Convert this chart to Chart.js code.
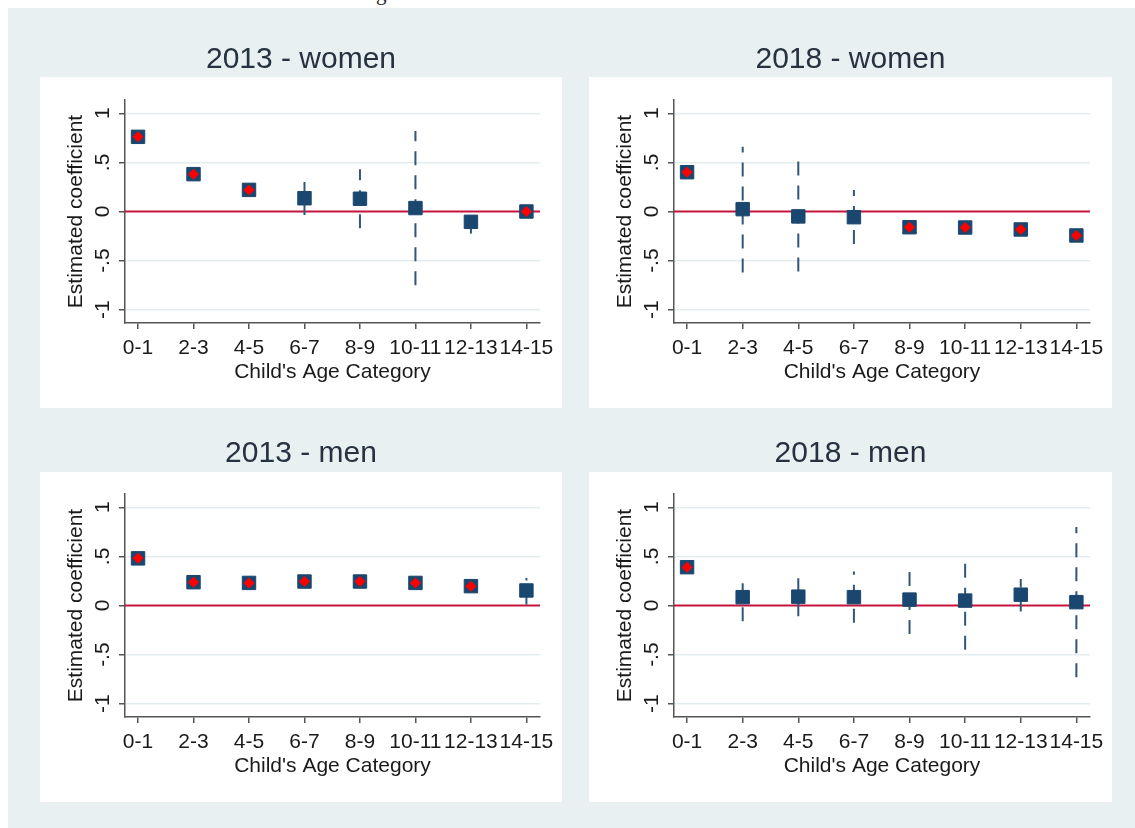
<!DOCTYPE html>
<html>
<head>
<meta charset="utf-8">
<script src="https://cdn.jsdelivr.net/npm/chart.js@4.4.0/dist/chart.umd.min.js"></script>
<style>
    body { margin: 0; width: 1135px; height: 828px; overflow: hidden; position: relative; background: #fff; }
    #caption { position: absolute; left: 0; top: -17px; width: 1135px; text-align: center; font: 21px "Liberation Serif", serif; line-height: 21px; color: #222; }
    #frame { position: absolute; left: 8px; top: 8px; width: 1127px; height: 820px; background: #e8f0f2; }
    .panel { position: absolute; background: #fff; }
    canvas { position: absolute; }
</style>
</head>
<body>
<div id="caption">Figure 3. Estimated coefficients: women and men</div>
<div id="frame"></div>
<div class="panel" style="left:40px; top:77px; width:522px; height:331px;"></div>
<div class="panel" style="left:589px; top:77px; width:523px; height:331px;"></div>
<div class="panel" style="left:40px; top:472px; width:522px; height:330px;"></div>
<div class="panel" style="left:589px; top:472px; width:523px; height:330px;"></div>
<canvas id="women-2013" width="522" height="378" style="left:40px; top:30px;"></canvas>
<canvas id="women-2018" width="523" height="378" style="left:589px; top:30px;"></canvas>
<canvas id="men-2013" width="522" height="378" style="left:40px; top:424px;"></canvas>
<canvas id="men-2018" width="523" height="378" style="left:589px; top:424px;"></canvas>
<script>
const categories = ['0-1', '2-3', '4-5', '6-7', '8-9', '10-11', '12-13', '14-15'];
const yTicks = [-1, -0.5, 0, 0.5, 1];
const yTickLabels = ['-1', '-.5', '0', '.5', '1'];

const women2013Coef = [0.76, 0.38, 0.22, 0.135, 0.13, 0.035, -0.105, 0.0];
const women2013Lower = [0.74, 0.36, 0.20, -0.035, -0.17, -0.75, -0.225, -0.02];
const women2013Upper = [0.78, 0.40, 0.24, 0.30, 0.43, 0.82, 0.01, 0.02];
const women2013Signif = [true, true, true, false, false, false, false, true];

const women2018Coef = [0.40, 0.024, -0.05, -0.058, -0.16, -0.163, -0.183, -0.244];
const women2018Lower = [0.38, -0.62, -0.61, -0.33, -0.23, -0.18, -0.20, -0.26];
const women2018Upper = [0.42, 0.66, 0.52, 0.22, -0.08, -0.145, -0.165, -0.225];
const women2018Signif = [true, false, false, false, true, true, true, true];

const men2013Coef = [0.48, 0.237, 0.23, 0.244, 0.244, 0.23, 0.197, 0.153];
const men2013Lower = [0.46, 0.22, 0.21, 0.225, 0.225, 0.21, 0.175, 0.01];
const men2013Upper = [0.50, 0.255, 0.25, 0.263, 0.263, 0.25, 0.22, 0.28];
const men2013Signif = [true, true, true, true, true, true, true, false];

const men2018Coef = [0.39, 0.085, 0.09, 0.085, 0.06, 0.05, 0.11, 0.034];
const men2018Lower = [0.37, -0.16, -0.11, -0.176, -0.29, -0.45, -0.06, -0.73];
const men2018Upper = [0.41, 0.26, 0.29, 0.345, 0.38, 0.47, 0.27, 0.80];
const men2018Signif = [true, false, false, false, false, false, false, false];

const FONT = '"Liberation Sans", Arial, sans-serif';
const NAVY = '#1a476f';
const AXIS = '#555';
Chart.defaults.font.family = FONT;

function makeChart(id, title, coef, lower, upper, signif) {
    // zero line + dashed confidence intervals, drawn under the markers
    let ciPlugin = {
        id: 'ci',
        beforeDatasetsDraw(chart) {
            let ctx = chart.ctx;
            let x = chart.scales.x, y = chart.scales.y;
            ctx.save();
            ctx.strokeStyle = '#c5143c';
            ctx.lineWidth = 2;
            ctx.beginPath();
            ctx.moveTo(chart.chartArea.left, y.getPixelForValue(0));
            ctx.lineTo(chart.chartArea.right, y.getPixelForValue(0));
            ctx.stroke();
            ctx.strokeStyle = '#34557a';
            ctx.setLineDash([14, 10]);
            coef.forEach((c, i) => {
                let px = x.getPixelForValue(i);
                ctx.beginPath();
                ctx.moveTo(px, y.getPixelForValue(lower[i]));
                ctx.lineTo(px, y.getPixelForValue(upper[i]));
                ctx.stroke();
            });
            ctx.restore();
        }
    };
    // stata style y tick labels, rotated
    let yLabelPlugin = {
        id: 'ylabels',
        afterDraw(chart) {
            let ctx = chart.ctx;
            let y = chart.scales.y;
            ctx.save();
            ctx.font = '21px ' + FONT;
            ctx.fillStyle = '#1a1a1a';
            ctx.textAlign = 'center';
            ctx.textBaseline = 'middle';
            yTicks.forEach((v, i) => {
                ctx.save();
                ctx.translate(y.right - 22, y.getPixelForValue(v));
                ctx.rotate(-Math.PI / 2);
                ctx.fillText(yTickLabels[i], 0, 0);
                ctx.restore();
            });
            ctx.restore();
        }
    };

    return new Chart(document.getElementById(id).getContext('2d'), {
        type: 'scatter',
        data: {
            datasets: [{
                data: coef.map((c, i) => ({ x: i, y: c })),
                pointStyle: 'rect',
                pointRadius: 9.5,
                pointBackgroundColor: NAVY,
                pointBorderColor: NAVY,
                pointBorderWidth: 1,
                order: 2
            }, {
                data: coef.map((c, i) => ({ x: i, y: c })).filter((p, i) => signif[i]),
                pointStyle: 'rectRot',
                pointRadius: 5.5,
                pointBackgroundColor: '#ff0000',
                pointBorderWidth: 0,
                order: 1
            }]
        },
        options: {
            responsive: false,
            animation: false,
            devicePixelRatio: 1,
            layout: { padding: 0 },
            plugins: {
                legend: { display: false },
                tooltip: { enabled: false },
                title: {
                    display: true,
                    text: title,
                    color: '#26323f',
                    font: { size: 30, weight: 'normal' },
                    padding: { top: 12, bottom: 22 }
                }
            },
            scales: {
                x: {
                    type: 'linear',
                    min: -0.235,
                    max: 7.245,
                    afterBuildTicks: (scale) => { scale.ticks = categories.map((c, i) => ({ value: i })); },
                    afterFit: (scale) => { scale.height = 85; scale.paddingLeft = 0; scale.paddingRight = 22; },
                    ticks: {
                        callback: (v) => categories[v],
                        autoSkip: false,
                        minRotation: 0,
                        maxRotation: 0,
                        color: '#1a1a1a',
                        font: { size: 21 },
                        padding: 7
                    },
                    grid: { drawOnChartArea: false, tickLength: 6, tickColor: AXIS, lineWidth: 1.5 },
                    border: { display: true, color: AXIS, width: 1.5 },
                    title: {
                        display: true,
                        text: "Child's Age Category",
                        color: '#1a1a1a',
                        font: { size: 21 },
                        padding: { top: 0, bottom: 23 }
                    }
                },
                y: {
                    min: -1.135,
                    max: 1.135,
                    afterBuildTicks: (scale) => { scale.ticks = yTicks.map(v => ({ value: v })); },
                    afterFit: (scale) => { scale.width = 85; },
                    ticks: { display: false },
                    grid: {
                        color: (c) => (c.tick && c.tick.value === 0) ? 'rgba(0,0,0,0)' : '#e3edef',
                        lineWidth: 1.5,
                        tickLength: 6,
                        tickColor: AXIS
                    },
                    border: { display: true, color: AXIS, width: 1.5 },
                    title: {
                        display: true,
                        text: 'Estimated coefficient',
                        color: '#1a1a1a',
                        font: { size: 21 },
                        padding: { top: 24 }
                    }
                }
            }
        },
        plugins: [ciPlugin, yLabelPlugin]
    });
}

let women2013 = makeChart('women-2013', '2013 - women', women2013Coef, women2013Lower, women2013Upper, women2013Signif);
let women2018 = makeChart('women-2018', '2018 - women', women2018Coef, women2018Lower, women2018Upper, women2018Signif);
let men2013 = makeChart('men-2013', '2013 - men', men2013Coef, men2013Lower, men2013Upper, men2013Signif);
let men2018 = makeChart('men-2018', '2018 - men', men2018Coef, men2018Lower, men2018Upper, men2018Signif);
</script>
</body>
</html>
